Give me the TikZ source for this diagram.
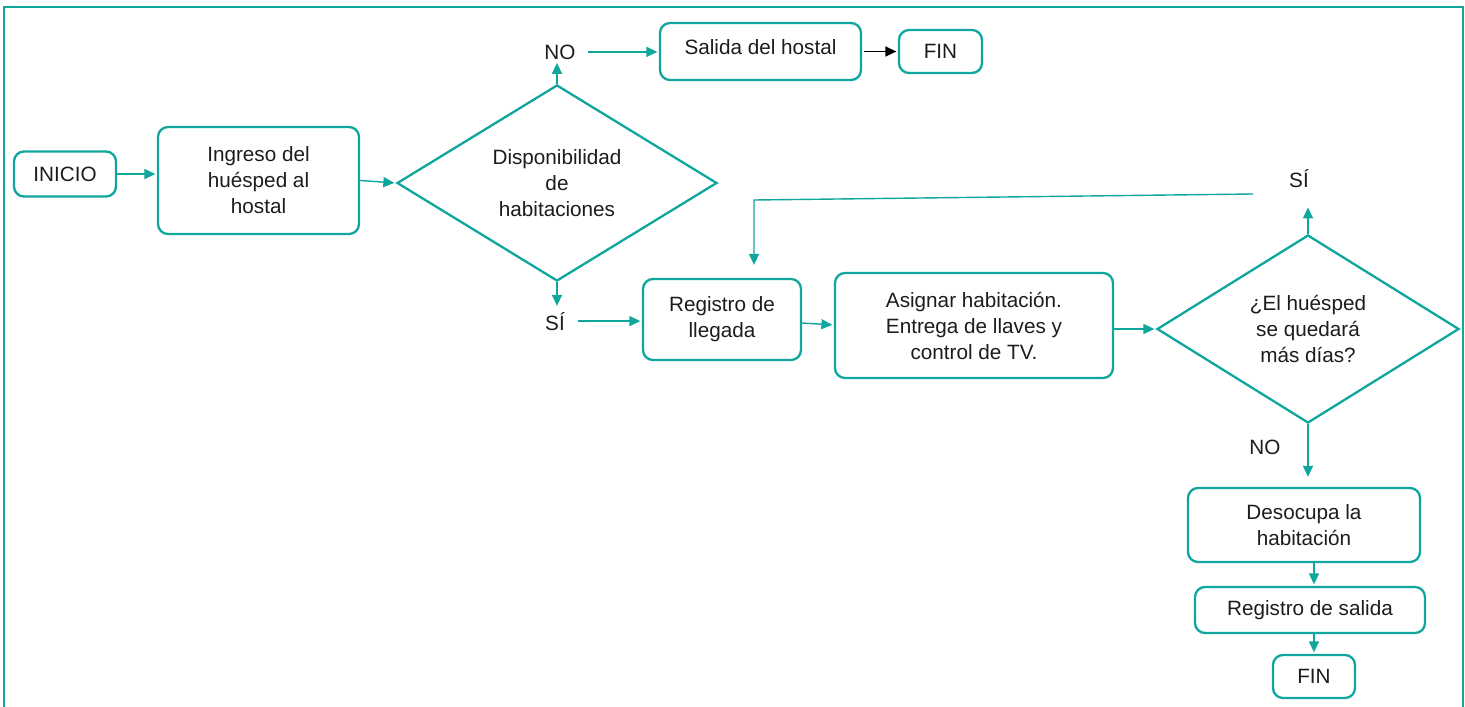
\documentclass[tikz,border=0pt]{standalone}
\usepackage{fontspec}
\setmainfont{Liberation Sans}
\usetikzlibrary{shapes.geometric,arrows.meta,calc}
\definecolor{flowteal}{RGB}{14,166,157}
\definecolor{inkgray}{RGB}{28,28,28}

\begin{document}
\begin{tikzpicture}[x=1pt,y=-1pt,
  every node/.style={font=\fontsize{20.7}{26}\selectfont, text=inkgray},
  box/.style={draw=flowteal, line width=2.3pt, rounded corners=10pt,
    align=center, inner sep=0pt},
  decision/.style={draw=flowteal, line width=2.3pt, diamond, align=center,
    inner sep=0pt},
  tag/.style={inner sep=2pt, anchor=base},
  arr/.style={draw=flowteal, line width=1.4pt,
    -{Triangle[length=11pt,width=10pt]}, shorten >=1.5pt},
  blackarr/.style={draw=black, line width=1.4pt,
    -{Triangle[length=11pt,width=10pt]}, shorten >=1.5pt}
]
\useasboundingbox (0,0) rectangle (1465,707);

% outer frame
\draw[flowteal, line width=2pt] (4,707) -- (4,7) -- (1463,7) -- (1463,707);

% process boxes
\node[box, minimum width=102pt, minimum height=45pt] (inicio) at (65,174) {INICIO};
\node[box, minimum width=201pt, minimum height=107pt] (ingreso) at (258.5,180.5)
  {Ingreso del\\hu\'esped al\\hostal};
\node[decision, minimum width=320pt, minimum height=190pt] (d1) at (557,183)
  {Disponibilidad\\de\\habitaciones};
\node[box, minimum width=201pt, minimum height=57pt] (salida) at (760.5,51.5)
  {\raisebox{4pt}[\height][\depth]{Salida del hostal}};
\node[box, minimum width=83pt, minimum height=43pt] (fin1) at (940.5,51.5) {FIN};
\node[box, minimum width=158pt, minimum height=81pt] (reg) at (722,319.5)
  {Registro de\\llegada};
\node[box, minimum width=278pt, minimum height=105pt] (asig) at (974,325.5)
  {Asignar habitaci\'on.\\Entrega de llaves y\\control de TV.};
\node[decision, minimum width=302pt, minimum height=188pt] (d2) at (1308,329)
  {¿El hu\'esped\\se quedar\'a\\m\'as d\'ias?};
\node[box, minimum width=232pt, minimum height=74pt] (deso) at (1304,525)
  {Desocupa la\\habitaci\'on};
\node[box, minimum width=230pt, minimum height=46pt] (rsal) at (1310,610)
  {Registro de salida};
\node[box, minimum width=82pt, minimum height=43pt] (fin2) at (1314,676.5) {FIN};

% branch labels
\node[tag] (no1) at (560,59) {NO};
\node[tag] (si1) at (555,330) {SÍ};
\node[tag] (si2) at (1299,187) {SÍ};
\node[tag] (no2) at (1265,454) {NO};

% loop-back path
\coordinate (back1) at (1253,194);
\coordinate (back2) at (754,200);

% connectors
\draw[arr] (inicio.east) -- (inicio.east -| ingreso.west);
\draw[arr] (ingreso.east) -- (d1.west);
\draw[arr] (d1.north) -- (d1.north |- no1.south);
\draw[arr, shorten <=10pt] (no1.east) -- (no1.east -| salida.west);
\draw[blackarr, shorten <=1.5pt] (salida.east) -- (fin1.west);
\draw[arr, shorten >=4pt] (d1.south) -- (d1.south |- si1.north);
\draw[arr, shorten <=11pt] (si1.east) -- (si1.east -| reg.west);
\draw[arr] ([yshift=-3.5pt]reg.east) -- ([yshift=-5.5pt]reg.east -| asig.west);
\draw[arr] (asig.east |- d2.west) -- (d2.west);
\draw[arr, shorten >=18pt] (d2.north) -- (d2.north |- si2.south);
\draw[arr, shorten >=13pt] (back1) -- (back2) -- (back2 |- reg.north);
\draw[arr, shorten >=10pt] (d2.south) -- (d2.south |- deso.north);
\draw[arr] (deso.south -| fin2) -- (rsal.north -| fin2);
\draw[arr] (rsal.south -| fin2) -- (fin2.north);
\end{tikzpicture}
\end{document}
